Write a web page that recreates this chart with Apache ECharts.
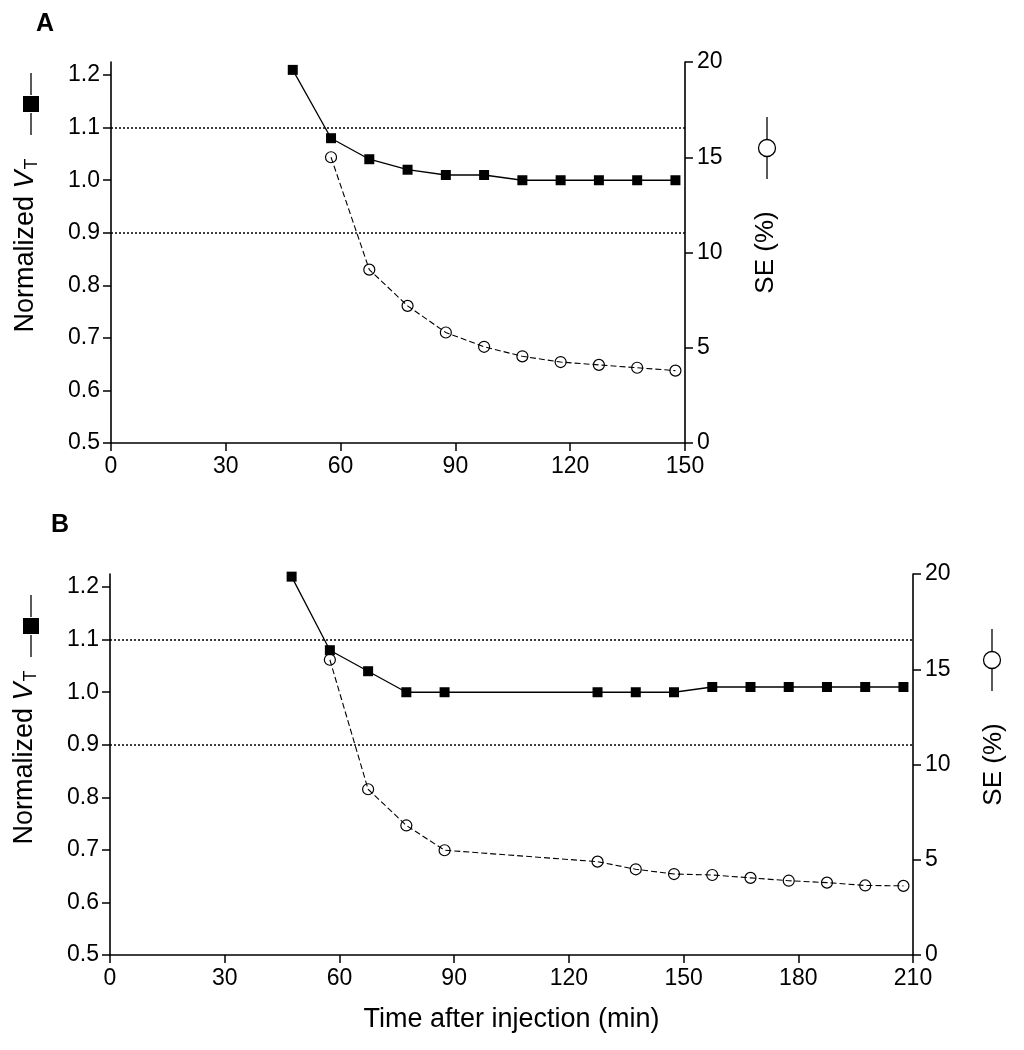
<!DOCTYPE html>
<html>
<head>
<meta charset="utf-8">
<script src="https://cdn.jsdelivr.net/npm/echarts@6/dist/echarts.min.js"></script>
<style>
html,body{margin:0;padding:0;background:#fff;}
#chart{width:1024px;height:1050px;}
</style>
</head>
<body>
<div id="chart"></div>
<script>
// ---- data ----
const timesA = [47.5, 57.5, 67.5, 77.5, 87.5, 97.5, 107.5, 117.5, 127.5, 137.5, 147.5];
const vtA    = [1.21, 1.08, 1.04, 1.02, 1.01, 1.01, 1.00, 1.00, 1.00, 1.00, 1.00];
const seA    = [null, 15.0, 9.1, 7.2, 5.8, 5.05, 4.55, 4.25, 4.1, 3.95, 3.8];

const timesB = [47.5, 57.5, 67.5, 77.5, 87.5, 127.5, 137.5, 147.5, 157.5, 167.5, 177.5, 187.5, 197.5, 207.5];
const vtB    = [1.22, 1.08, 1.04, 1.00, 1.00, 1.00, 1.00, 1.00, 1.01, 1.01, 1.01, 1.01, 1.01, 1.01];
const seB    = [null, 15.5, 8.7, 6.8, 5.5, 4.9, 4.5, 4.25, 4.2, 4.05, 3.9, 3.8, 3.65, 3.63];

const refLevels  = [0.9, 1.1];
const leftTicks  = [0.5, 0.6, 0.7, 0.8, 0.9, 1.0, 1.1, 1.2];
const rightTicks = [0, 5, 10, 15, 20];
const xTicksA    = [0, 30, 60, 90, 120, 150];
const xTicksB    = [0, 30, 60, 90, 120, 150, 180, 210];
const panelLabels = ['A', 'B'];
const xTitle = 'Time after injection (min)';
const seTitle = 'SE (%)';

// ---- helpers ----
const FONT = "'Liberation Sans', Arial, Helvetica, sans-serif";
const pairs = (xs, ys) => xs.map((x, i) => ys[i] == null ? null : [x, ys[i]]).filter(Boolean);

const chart = echarts.init(document.getElementById('chart'));

const axisLine = { show: true, onZero: false, lineStyle: { color: '#000', width: 1.6 } };
const axisTick = { show: true, length: 8, lineStyle: { color: '#000', width: 1.5 } };
const labelStyle = { color: '#000', fontFamily: FONT, fontSize: 23 };

function xAxisFor(grid, ticks, name) {
  return {
    type: 'value', gridIndex: grid,
    min: ticks[0], max: ticks[ticks.length - 1], interval: ticks[1] - ticks[0],
    axisLine, axisTick, splitLine: { show: false },
    axisLabel: Object.assign({ margin: 12 }, labelStyle),
    name: name || '', nameLocation: 'middle', nameGap: 51,
    nameTextStyle: { color: '#000', fontFamily: FONT, fontSize: 27 }
  };
}
function leftAxisFor(grid) {
  return {
    type: 'value', gridIndex: grid, position: 'left',
    min: 0.5, max: 1.225,
    axisLine, splitLine: { show: false },
    axisTick: Object.assign({ customValues: leftTicks }, axisTick),
    axisLabel: Object.assign({ margin: 11, customValues: leftTicks, formatter: v => v.toFixed(1) }, labelStyle),
    name: '{n|Normalized }{v|V}{t|T}', nameLocation: 'middle', nameRotate: 90, nameGap: 70,
    nameTextStyle: {
      padding: [0, 0, 0, 14],
      rich: {
        n: { fontFamily: FONT, fontSize: 27, color: '#000', lineHeight: 31 },
        v: { fontFamily: FONT, fontSize: 27, fontStyle: 'italic', color: '#000', lineHeight: 31 },
        t: { fontFamily: FONT, fontSize: 18, color: '#000', lineHeight: 18, verticalAlign: 'bottom', padding: [0, 0, 0, 1] }
      }
    }
  };
}
function rightAxisFor(grid) {
  return {
    type: 'value', gridIndex: grid, position: 'right',
    min: rightTicks[0], max: rightTicks[rightTicks.length - 1], interval: rightTicks[1] - rightTicks[0],
    axisLine, axisTick, splitLine: { show: false },
    axisLabel: Object.assign({ margin: 12 }, labelStyle),
    name: seTitle, nameLocation: 'middle', nameRotate: 90, nameGap: 68,
    nameTextStyle: { color: '#000', fontFamily: FONT, fontSize: 26 }
  };
}

function vtSeries(xi, yi, xs, ys) {
  return {
    type: 'line', xAxisIndex: xi, yAxisIndex: yi, data: pairs(xs, ys),
    symbol: 'rect', symbolSize: 10, z: 4,
    itemStyle: { color: '#000' },
    lineStyle: { color: '#000', width: 1.3 },
    animation: false, silent: true,
    markLine: {
      silent: true, symbol: ['none', 'none'], label: { show: false }, animation: false,
      lineStyle: { color: '#000', width: 1.6, type: [2, 2] },
      data: refLevels.map(v => ({ yAxis: v }))
    }
  };
}
function seSeries(xi, yi, xs, ys) {
  return {
    type: 'line', xAxisIndex: xi, yAxisIndex: yi, data: pairs(xs, ys),
    symbol: 'circle', symbolSize: 11, z: 3,
    itemStyle: { color: 'rgba(0,0,0,0)', borderColor: '#000', borderWidth: 1.2 },
    lineStyle: { color: '#000', width: 1.1, type: [6, 3] },
    animation: false, silent: true
  };
}

// legend glyphs drawn next to the axis titles (vertical: line - marker - line)
function glyph(cx, cy, kind) {
  const half = 31, gap = 9;
  const els = [
    { type: 'line', shape: { x1: cx, y1: cy - half, x2: cx, y2: cy - gap }, style: { stroke: '#000', lineWidth: 1.3 } },
    { type: 'line', shape: { x1: cx, y1: cy + gap, x2: cx, y2: cy + half }, style: { stroke: '#000', lineWidth: 1.3 } }
  ];
  if (kind === 'rect') {
    els.push({ type: 'rect', shape: { x: cx - 8, y: cy - 8, width: 16, height: 16 }, style: { fill: '#000' } });
  } else {
    els.push({ type: 'circle', shape: { cx, cy, r: 8.5 }, style: { fill: 'none', stroke: '#000', lineWidth: 1.3 } });
  }
  return els;
}

const option = {
  backgroundColor: '#fff',
  grid: [
    { left: 111, right: 339, top: 62, height: 381 },
    { left: 110, right: 111, top: 574, height: 381 }
  ],
  xAxis: [xAxisFor(0, xTicksA), xAxisFor(1, xTicksB, xTitle)],
  yAxis: [leftAxisFor(0), rightAxisFor(0), leftAxisFor(1), rightAxisFor(1)],
  series: [
    seSeries(0, 1, timesA, seA),
    vtSeries(0, 0, timesA, vtA),
    seSeries(1, 3, timesB, seB),
    vtSeries(1, 2, timesB, vtB)
  ],
  graphic: [
    { type: 'text', left: 36, top: 12, style: { text: panelLabels[0], font: 'bold 25px ' + FONT, fill: '#000' } },
    { type: 'text', left: 51, top: 513, style: { text: panelLabels[1], font: 'bold 25px ' + FONT, fill: '#000' } },
    ...glyph(31, 104, 'rect'),
    ...glyph(767, 148, 'circle'),
    ...glyph(31, 626, 'rect'),
    ...glyph(992, 660, 'circle')
  ]
};
chart.setOption(option);
</script>
</body>
</html>
